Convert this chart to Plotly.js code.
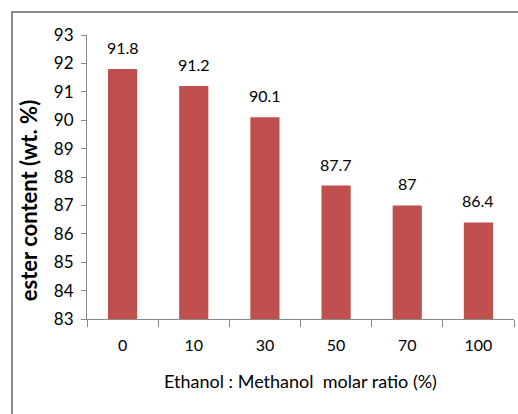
<!DOCTYPE html>
<html><head><meta charset="utf-8">
<script src="https://cdn.plot.ly/plotly-3.0.1.min.js"></script>
<style>
html,body{margin:0;padding:0;background:#fff;overflow:hidden}
#frame{position:absolute;left:11px;top:11px;width:600px;height:500px;border-left:2px solid #8a8a8a;border-top:2px solid #8a8a8a;pointer-events:none;z-index:5}
#chart{width:518px;height:414px}
</style></head>
<body>
<div id="frame"></div>
<div id="chart"></div>
<script>
var categories = ["0", "10", "30", "50", "70", "100"];
var esterContent = [91.8, 91.2, 90.1, 87.7, 87, 86.4];
var labels = ["91.8", "91.2", "90.1", "87.7", "87", "86.4"];
var yTitle = "ester content (wt. %)";
var xTitle = "Ethanol : Methanol  molar ratio (%)";

var font = "Lato, 'Open Sans', sans-serif";

var annotations = categories.map(function(c, i){
  return {x: i, y: esterContent[i], text: labels[i], showarrow: false,
    yanchor: 'bottom', yshift: 10, font: {family: font, size: 16, color: '#000'}};
});
annotations.push({xref: 'paper', yref: 'paper', x: -0.138, y: 0.415,
  xanchor: 'center', yanchor: 'middle', textangle: -90, showarrow: false,
  text: '<b>' + yTitle + '</b>', font: {family: font, size: 22, color: '#000'}});

Plotly.newPlot('chart', [{
  type: 'bar', x: categories, y: esterContent,
  marker: {color: '#C0504D', line: {width: 0}},
  width: 0.41, hoverinfo: 'none'
}], {
  width: 518, height: 414,
  margin: {l: 87, r: 4, t: 35, b: 95},
  paper_bgcolor: '#fff', plot_bgcolor: '#fff',
  showlegend: false,
  xaxis: {type: 'category', range: [-0.5, 5.5], showline: true, linecolor: '#888', linewidth: 1,
    ticks: 'outside', tickson: 'boundaries', ticklen: 7, tickcolor: '#888',
    showgrid: false, zeroline: false, tickangle: 0, ticklabelstandoff: 12,
    tickfont: {family: font, size: 16, color: '#000'},
    title: {text: xTitle, standoff: 22,
      font: {family: font, size: 18, color: '#000'}}},
  yaxis: {range: [83, 93], dtick: 1, showline: true, linecolor: '#888', linewidth: 1,
    ticks: 'outside', ticklen: 5, tickcolor: '#888', showgrid: false, zeroline: false,
    ticklabelstandoff: 4,
    tickfont: {family: font, size: 17, color: '#000'}},
  annotations: annotations
}, {displayModeBar: false, staticPlot: true});
</script>
</body></html>
